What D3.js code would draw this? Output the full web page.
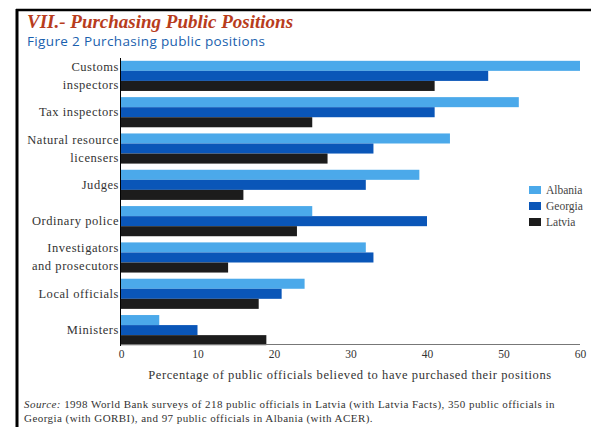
<!DOCTYPE html>
<html><head><meta charset="utf-8">
<script src="https://cdn.jsdelivr.net/npm/d3@7"></script>
<style>body{margin:0;background:#fff;} svg{display:block;}</style>
</head><body>
<script>
const categories = ["Customs inspectors","Tax inspectors","Natural resource licensers","Judges","Ordinary police","Investigators and prosecutors","Local officials","Ministers"];
const categoryLines = [["Customs","inspectors"],["Tax inspectors"],["Natural resource","licensers"],["Judges"],["Ordinary police"],["Investigators","and prosecutors"],["Local officials"],["Ministers"]];
const seriesNames = ["Albania","Georgia","Latvia"];
const albania = [60,52,43,39,25,32,24,5];
const georgia = [48,41,33,32,40,33,21,10];
const latvia  = [41,25,27,16,23,14,18,19];
const xTicks = [0,10,20,30,40,50,60];
const colors = ["#4ba9ea","#0a56b8","#1c1c1c"];

const W=591,H=427;
const svg=d3.select("body").append("svg").attr("width",W).attr("height",H);

// frame
svg.append("line").attr("x1",16).attr("x2",591).attr("y1",10).attr("y2",10).attr("stroke","#000").attr("stroke-width",2.5);
svg.append("line").attr("x1",17).attr("x2",17).attr("y1",9).attr("y2",427).attr("stroke","#000").attr("stroke-width",3);

svg.append("text").attr("x",27).attr("y",28).attr("font-family","Liberation Serif, serif")
  .attr("font-weight","bold").attr("font-style","italic").attr("font-size",19).attr("fill","#b83c1c")
  .text("VII.- Purchasing Public Positions");
svg.append("text").attr("x",27).attr("y",46).attr("font-family","Open Sans, sans-serif")
  .attr("font-size",13.5).attr("letter-spacing",0.35).attr("fill","#1a5fae").text("Figure 2 Purchasing public positions");

const x=d3.scaleLinear().domain([0,60]).range([121,580]);
const y=d3.scaleBand().domain(categories).range([59,347]).paddingInner(0.17).paddingOuter(0.05);
const ys=d3.scaleBand().domain(seriesNames).range([0,y.bandwidth()]);

const data=[albania,georgia,latvia];
const g=svg.append("g");
seriesNames.forEach((s,si)=>{
  g.selectAll(null).data(categories).enter().append("rect")
   .attr("x",x(0)).attr("y",c=>y(c)+ys(s))
   .attr("width",(c,i)=>x(data[si][i])-x(0)).attr("height",ys.bandwidth())
   .attr("fill",colors[si]);
});

// axes lines
svg.append("line").attr("x1",x(0)).attr("x2",x(60)).attr("y1",344.5).attr("y2",344.5).attr("stroke","#777").attr("stroke-width",1);
svg.append("line").attr("x1",120.5).attr("x2",120.5).attr("y1",58).attr("y2",346).attr("stroke","#000").attr("stroke-width",1);

const xa=svg.append("g").attr("transform","translate(0,346)")
  .call(d3.axisBottom(x).tickValues(xTicks).tickSize(0).tickPadding(4));
xa.select(".domain").remove();
xa.selectAll("text").attr("font-family","Liberation Serif, serif").attr("font-size",11.5).attr("fill","#333");

// category labels
categories.forEach((c,i)=>{
  const lines=categoryLines[i];
  const cy=y(c)+y.bandwidth()/2;
  const t=svg.append("text").attr("text-anchor","end").attr("font-family","Liberation Serif, serif")
    .attr("font-size",12.5).attr("letter-spacing",0.55).attr("fill","#333");
  lines.forEach((l,k)=>{
    const off=lines.length===1?0:(k===0?-9:9);
    t.append("tspan").attr("x",119).attr("y",cy+off+4).text(l);
  });
});

svg.append("text").attr("x",350).attr("y",379).attr("text-anchor","middle")
  .attr("font-family","Liberation Serif, serif").attr("font-size",12.5).attr("letter-spacing",0.6).attr("fill","#333")
  .text("Percentage of public officials believed to have purchased their positions");

// legend
const lg=svg.append("g");
seriesNames.forEach((s,i)=>{
  lg.append("rect").attr("x",529).attr("y",186+i*16).attr("width",12).attr("height",8).attr("fill",colors[i]);
  lg.append("text").attr("x",546).attr("y",194+i*16).attr("font-family","Liberation Serif, serif")
    .attr("font-size",11.5).attr("fill","#444").text(s);
});

// source
const src=svg.append("text").attr("font-family","Liberation Serif, serif").attr("font-size",11).attr("letter-spacing",0.45).attr("fill","#333");
const t1=src.append("tspan").attr("x",24).attr("y",408);
t1.append("tspan").attr("font-style","italic").text("Source:");
t1.append("tspan").text(" 1998 World Bank surveys of 218 public officials in Latvia (with Latvia Facts), 350 public officials in");
src.append("tspan").attr("x",24).attr("y",422).text("Georgia (with GORBI), and 97 public officials in Albania (with ACER).");
</script>
</body></html>
